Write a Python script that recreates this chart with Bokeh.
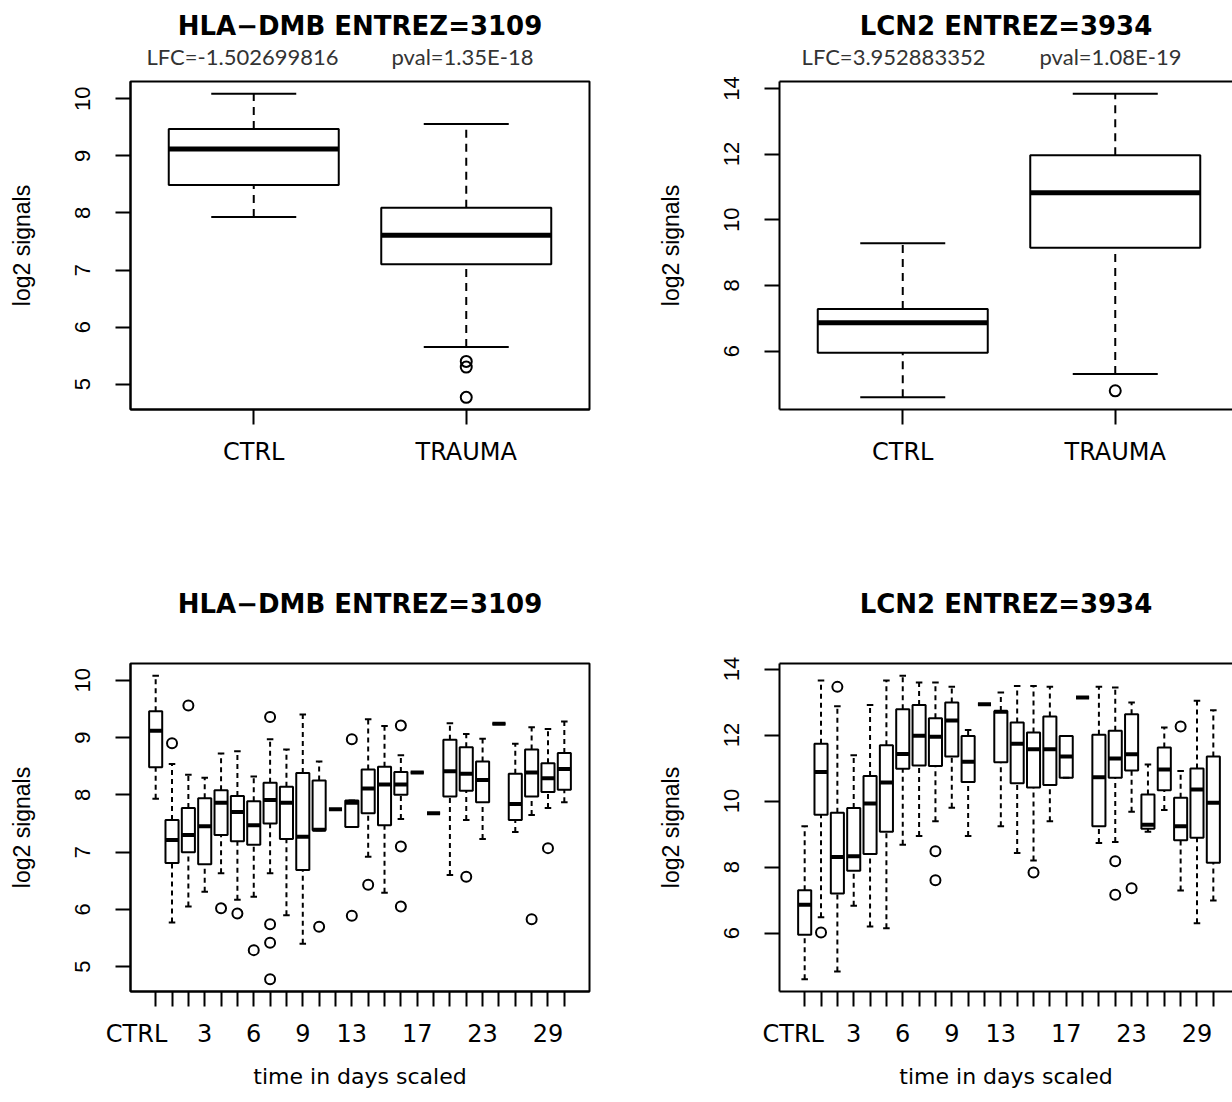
from bokeh.plotting import figure
from bokeh.layouts import row, column
from bokeh.models import Range1d, FixedTicker, LinearAxis, ColumnDataSource
from bokeh.embed import file_html
from bokeh.resources import INLINE

# ---------------- data: top panels (CTRL vs TRAUMA) ----------------
groups = ["CTRL", "TRAUMA"]

hla_lower = [7.93, 5.65]
hla_q1 = [8.49, 7.10]
hla_med = [9.12, 7.61]
hla_q3 = [9.47, 8.09]
hla_upper = [10.09, 9.56]
hla_out_group = [2, 2, 2]
hla_out_val = [5.40, 5.30, 4.77]
hla_notes = ["LFC=-1.502699816", "pval=1.35E-18"]

lcn_lower = [4.59, 5.30]
lcn_q1 = [5.95, 9.15]
lcn_med = [6.86, 10.82]
lcn_q3 = [7.28, 11.96]
lcn_upper = [9.28, 13.84]
lcn_out_group = [2]
lcn_out_val = [4.79]
lcn_notes = ["LFC=3.952883352", "pval=1.08E-19"]

# ---------------- data: bottom panels (time course) ----------------
days = ["CTRL", "1", "2", "3", "4", "5", "6", "7", "8", "9", "10", "11", "13",
        "14", "15", "16", "17", "18", "20", "21", "23", "24", "26", "28", "29", "30"]
shown_day_labels = ["CTRL", "3", "6", "9", "13", "17", "23", "29"]

hla_t_lower = [7.93, 5.77, 6.05, 6.31, 6.63, 6.17, 6.22, 6.63, 5.90, 5.40, 7.38, 7.75, 7.44,
               6.92, 6.29, 7.58, 8.39, 7.68, 6.60, 7.56, 7.23, 9.24, 7.35, 7.65, 7.77, 7.87]
hla_t_q1 = [8.48, 6.81, 7.00, 6.79, 7.30, 7.19, 7.13, 7.50, 7.23, 6.69, 7.38, 7.75, 7.44,
            7.68, 7.47, 8.00, 8.39, 7.68, 7.97, 8.07, 7.87, 9.24, 7.56, 7.97, 8.05, 8.09]
hla_t_med = [9.12, 7.21, 7.30, 7.45, 7.86, 7.70, 7.47, 7.91, 7.86, 7.27, 7.39, 7.75, 7.86,
             8.11, 8.18, 8.18, 8.39, 7.68, 8.41, 8.37, 8.26, 9.24, 7.84, 8.39, 8.29, 8.45]
hla_t_q3 = [9.46, 7.56, 7.77, 7.94, 8.08, 7.98, 7.89, 8.21, 8.14, 8.38, 8.25, 7.75, 7.90,
            8.44, 8.49, 8.40, 8.39, 7.68, 8.96, 8.83, 8.58, 9.24, 8.37, 8.79, 8.55, 8.73]
hla_t_upper = [10.08, 8.54, 8.35, 8.30, 8.72, 8.76, 8.32, 8.97, 8.79, 9.40, 8.58, 7.75, 7.90,
               9.32, 9.20, 8.69, 8.39, 7.68, 9.25, 9.06, 8.98, 9.24, 8.89, 9.18, 9.15, 9.28]
hla_t_out_idx = [2, 3, 5, 6, 7, 8, 8, 8, 8, 11, 13, 13, 14, 16, 16, 16, 20, 24, 25]
hla_t_out_val = [8.90, 9.56, 6.02, 5.93, 5.29, 9.36, 5.74, 5.42, 4.78, 5.70, 8.97, 5.89,
                 6.43, 9.21, 7.10, 6.05, 6.57, 5.83, 7.07]

lcn_t_lower = [4.60, 6.48, 4.84, 6.83, 6.20, 6.15, 8.68, 8.94, 9.39, 9.80, 8.94, 12.93, 9.24,
               8.43, 8.20, 9.39, 10.71, 13.14, 8.73, 8.76, 9.68, 9.07, 9.73, 7.29, 6.30, 6.99]
lcn_t_q1 = [5.95, 9.59, 7.20, 7.89, 8.40, 9.07, 10.98, 11.08, 11.06, 11.35, 10.58, 12.93, 11.18,
            10.54, 10.41, 10.49, 10.71, 13.14, 9.24, 10.71, 10.93, 9.16, 10.33, 8.81, 8.89, 8.13]
lcn_t_med = [6.86, 10.88, 8.31, 8.33, 9.93, 10.56, 11.43, 11.98, 11.95, 12.44, 11.19, 12.93, 12.71,
             11.74, 11.57, 11.57, 11.35, 13.14, 10.72, 11.29, 11.42, 9.28, 10.96, 9.24, 10.35, 9.95]
lcn_t_q3 = [7.30, 11.74, 9.65, 9.79, 10.76, 11.69, 12.78, 12.91, 12.51, 12.99, 11.97, 12.93, 12.73,
            12.38, 12.08, 12.56, 11.97, 13.14, 12.01, 12.13, 12.63, 10.20, 11.62, 10.10, 10.99, 11.35]
lcn_t_upper = [9.24, 13.65, 12.87, 11.39, 12.91, 13.65, 13.80, 13.59, 13.59, 13.46, 12.15, 12.93, 13.29,
               13.49, 13.49, 13.46, 11.97, 13.14, 13.46, 13.44, 12.99, 11.11, 12.23, 10.91, 13.04, 12.75]
lcn_t_out_idx = [2, 3, 9, 9, 15, 20, 20, 21, 24]
lcn_t_out_val = [6.02, 13.46, 8.48, 7.60, 7.84, 8.18, 7.16, 7.36, 12.26]

# ---------------- layout constants (pixels) ----------------
FIG_W = 616
ROW1_H = 538
ROW2_H = 564
FRAME_H = 328
ROW1_TOP = 81
ROW2_TOP = 663 - ROW1_H
LEFT_BORDER = 130
LEFT_RIGHT_BORDER = 27
RIGHT_LEFT_BORDER = 163
LEFT_FRAME_W = FIG_W - LEFT_BORDER - LEFT_RIGHT_BORDER
RIGHT_FRAME_W = FIG_W - RIGHT_LEFT_BORDER

TITLE_FONT = "DejaVu Sans"
TICK_FONT_X = "DejaVu Sans"
TICK_FONT_Y = "Liberation Sans"
NOTE_FONT = "Lato"
NBSP = "\u00a0"


def y_range_for(*arrays):
    vals = [v for a in arrays for v in a]
    lo, hi = min(vals), max(vals)
    pad = 0.04 * (hi - lo)
    return Range1d(lo - pad, hi + pad)


def x_limits(n):
    return 0.5 - 0.04 * n, n + 0.5 + 0.04 * n


def style_axis(ax):
    ax.axis_line_width = 2
    ax.axis_line_color = "black"
    ax.major_tick_line_width = 2
    ax.major_tick_line_color = "black"
    ax.major_tick_in = 0
    ax.major_tick_out = 15
    ax.minor_tick_line_color = None
    ax.major_label_text_color = "black"
    ax.axis_label_text_color = "black"
    ax.axis_label_text_font_style = "normal"


def make_fig(n, yr, height, top, right_side, title, title_standoff, notes=None, note_pos=None):
    xs, xe = x_limits(n)
    if right_side:
        xe = xs + (xe - xs) * RIGHT_FRAME_W / LEFT_FRAME_W
        left, rightb, fw = RIGHT_LEFT_BORDER, 0, RIGHT_FRAME_W
    else:
        left, rightb, fw = LEFT_BORDER, LEFT_RIGHT_BORDER, LEFT_FRAME_W
    p = figure(width=FIG_W, height=height, x_range=Range1d(xs, xe), y_range=yr,
               output_backend="svg", toolbar_location=None,
               min_border_left=left, min_border_right=rightb,
               min_border_top=top, min_border_bottom=height - top - FRAME_H)
    p.grid.visible = False
    p.background_fill_color = "white"
    p.border_fill_color = "white"
    xb = p.below[0]
    yl = p.left[0]
    style_axis(xb)
    style_axis(yl)
    yl.major_label_orientation = "vertical"
    yl.major_label_text_font = TICK_FONT_Y
    yl.major_label_text_font_size = "22px"
    yl.major_label_standoff = 25
    yl.axis_label = "log2 signals"
    yl.axis_label_text_font = TICK_FONT_Y
    yl.axis_label_text_font_size = "23px"
    yl.axis_label_standoff = 38
    xb.major_label_text_font = TICK_FONT_X
    xb.major_label_text_font_size = "24px"

    # top axis: frame top line (right panels) + annotation texts
    p.extra_x_ranges = {"px": Range1d(0, fw)}
    top_ax = LinearAxis(x_range_name="px", major_tick_line_color=None, major_tick_out=0,
                        major_tick_in=0, minor_tick_line_color=None,
                        axis_line_width=2,
                        axis_line_color="black" if right_side else None)
    if notes:
        top_ax.ticker = FixedTicker(ticks=note_pos)
        top_ax.major_label_overrides = {pos: t for pos, t in zip(note_pos, notes)}
        top_ax.major_label_text_font = NOTE_FONT
        top_ax.major_label_text_font_size = "22px"
        top_ax.major_label_text_color = "#333333"
        top_ax.major_label_standoff = 12
    else:
        top_ax.ticker = FixedTicker(ticks=[])
        top_ax.major_label_text_font_size = "0px"
        top_ax.major_label_standoff = 0
    p.add_layout(top_ax, "above")

    if right_side:
        p.outline_line_color = None
    else:
        p.outline_line_color = "black"
        p.outline_line_width = 2
        p.outline_line_alpha = 1.0

    p.title.text = title
    p.title.align = "center"
    p.title.text_font = TITLE_FONT
    p.title.text_font_style = "bold"
    p.title.text_font_size = "26px"
    p.title.text_color = "black"
    p.title.standoff = title_standoff
    return p, xb, yl


def draw_boxes(p, lower, q1, med, q3, upper, out_pos, out_val, lw, med_w, dash, circ):
    xs = list(range(1, len(med) + 1))
    bw = 0.8
    src = ColumnDataSource(dict(
        x=xs, lo=lower, q1=q1, med=med, q3=q3, up=upper,
        left=[x - bw / 2 for x in xs], right=[x + bw / 2 for x in xs],
        sl=[x - bw / 4 for x in xs], sr=[x + bw / 4 for x in xs]))
    p.segment(x0="x", y0="q3", x1="x", y1="up", source=src, line_color="black",
              line_width=lw, line_dash=dash)
    p.segment(x0="x", y0="lo", x1="x", y1="q1", source=src, line_color="black",
              line_width=lw, line_dash=dash)
    p.segment(x0="sl", y0="up", x1="sr", y1="up", source=src, line_color="black", line_width=lw)
    p.segment(x0="sl", y0="lo", x1="sr", y1="lo", source=src, line_color="black", line_width=lw)
    p.quad(left="left", right="right", top="q3", bottom="q1", source=src,
           fill_color=None, line_color="black", line_width=lw)
    p.segment(x0="left", y0="med", x1="right", y1="med", source=src, line_color="black",
              line_width=med_w, line_cap="butt")
    p.scatter(x=out_pos, y=out_val, marker="circle", size=circ, fill_color=None,
              line_color="black", line_width=lw)


def setup_group_axis(xb):
    xb.ticker = FixedTicker(ticks=[1, 2])
    xb.major_label_overrides = {1: groups[0], 2: groups[1]}
    xb.major_label_standoff = 13


def setup_time_axis(xb, ctrl_pad):
    n = len(days)
    xb.ticker = FixedTicker(ticks=list(range(1, n + 1)))
    overrides = {}
    for i, d in enumerate(days):
        if d == days[0]:
            overrides[i + 1] = d + NBSP * ctrl_pad
        else:
            overrides[i + 1] = d if d in shown_day_labels else ""
    xb.major_label_overrides = overrides
    xb.major_label_standoff = 13
    xb.axis_label = "time in days scaled"
    xb.axis_label_text_font = TICK_FONT_X
    xb.axis_label_text_font_size = "22px"
    xb.axis_label_standoff = 13


# ---------------- top-left ----------------
p1, xb1, yl1 = make_fig(2, y_range_for(hla_lower, hla_upper, hla_out_val), ROW1_H, ROW1_TOP,
                        False, "HLA\u2212DMB ENTREZ=3109", -2, hla_notes, [112, 332])
yl1.ticker = FixedTicker(ticks=[5, 6, 7, 8, 9, 10])
setup_group_axis(xb1)
draw_boxes(p1, hla_lower, hla_q1, hla_med, hla_q3, hla_upper, hla_out_group, hla_out_val,
           2, 5, "8 6", 11)

# ---------------- top-right ----------------
p2, xb2, yl2 = make_fig(2, y_range_for(lcn_lower, lcn_upper, lcn_out_val), ROW1_H, ROW1_TOP,
                        True, "LCN2 ENTREZ=3934", -2, lcn_notes, [114, 331])
yl2.ticker = FixedTicker(ticks=[6, 8, 10, 12, 14])
setup_group_axis(xb2)
draw_boxes(p2, lcn_lower, lcn_q1, lcn_med, lcn_q3, lcn_upper, lcn_out_group, lcn_out_val,
           2, 5, "8 6", 11)

n_t = len(days)
# ---------------- bottom-left ----------------
p3, xb3, yl3 = make_fig(n_t, y_range_for(hla_t_lower, hla_t_upper, hla_t_out_val), ROW2_H,
                        ROW2_TOP, False, "HLA\u2212DMB ENTREZ=3109", 90)
yl3.ticker = FixedTicker(ticks=[5, 6, 7, 8, 9, 10])
setup_time_axis(xb3, 5)
draw_boxes(p3, hla_t_lower, hla_t_q1, hla_t_med, hla_t_q3, hla_t_upper,
           hla_t_out_idx, hla_t_out_val, 2, 4, "5 4", 10)

# ---------------- bottom-right ----------------
p4, xb4, yl4 = make_fig(n_t, y_range_for(lcn_t_lower, lcn_t_upper, lcn_t_out_val), ROW2_H,
                        ROW2_TOP, True, "LCN2 ENTREZ=3934", 90)
yl4.ticker = FixedTicker(ticks=[6, 8, 10, 12, 14])
setup_time_axis(xb4, 3)
draw_boxes(p4, lcn_t_lower, lcn_t_q1, lcn_t_med, lcn_t_q3, lcn_t_upper,
           lcn_t_out_idx, lcn_t_out_val, 2, 4, "5 4", 10)

layout = column(row(p1, p2), row(p3, p4))
open("out.html", "w").write(file_html(layout, INLINE))
